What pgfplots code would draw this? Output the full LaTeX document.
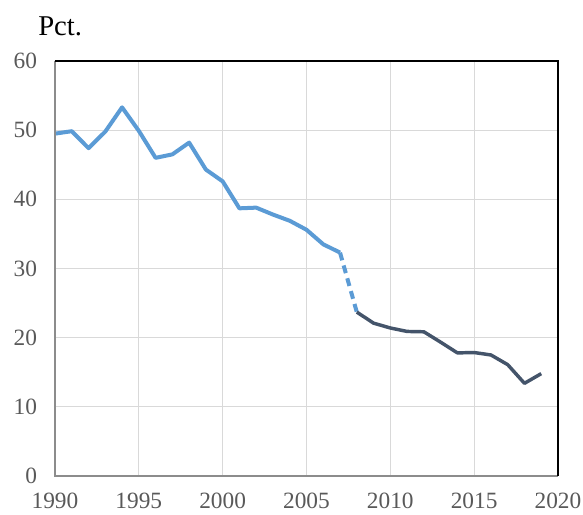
\documentclass[border=0pt]{standalone}
\usepackage{fontspec}
\setmainfont{Liberation Serif}
\usepackage{pgfplots}
\pgfplotsset{compat=1.18}
\definecolor{lblue}{HTML}{5B9BD5}
\definecolor{dblue}{HTML}{44546A}
\definecolor{tickgrey}{HTML}{595959}
\definecolor{gridgrey}{HTML}{D9D9D9}
\definecolor{axgrey}{HTML}{8C8C8C}
\begin{document}
\begin{tikzpicture}
\begin{axis}[
  at={(0pt,0pt)}, anchor=south west,
  scale only axis,
  width=377.25pt, height=311.25pt,
  xmin=1990, xmax=2020, ymin=0, ymax=60,
  xtick={1990,1995,...,2020}, ytick={0,10,...,60},
  major tick length=0pt,
  axis line style={draw=none},
  grid=major,
  major grid style={gridgrey, line width=0.75pt},
  /pgf/number format/assume math mode=true,
  /pgf/number format/1000 sep={},
  tick label style={font=\fontsize{17.5}{20}\selectfont, text=tickgrey},
  xticklabel style={yshift=-9pt},
  yticklabel style={xshift=-10pt},
  clip=false,
]
\addplot[lblue, line width=3pt, line join=round] coordinates {
(1990,49.5) (1991,49.85) (1992,47.4) (1993,49.8) (1994,53.3) (1995,49.9)
(1996,46.0) (1997,46.5) (1998,48.2) (1999,44.3) (2000,42.6) (2001,38.7)
(2002,38.8) (2003,37.8) (2004,36.9) (2005,35.6) (2006,33.5) (2007,32.3)
};
\addplot[lblue, line width=3pt, dash pattern=on 6pt off 4pt] coordinates {
(2007,32.3) (2008,23.7)
};
\addplot[dblue, line width=2.6pt, line join=round] coordinates {
(2008,23.7) (2009,22.1) (2010,21.4) (2011,20.9) (2012,20.85) (2013,19.35)
(2014,17.8) (2015,17.85) (2016,17.5) (2017,16.1) (2018,13.4) (2019,14.8)
};
\draw[axgrey, line width=1.2pt] (rel axis cs:0,1) -- (rel axis cs:0,0) -- (rel axis cs:1,0);
\draw[black, line width=1.8pt] (rel axis cs:0,1) -- (rel axis cs:1,1) -- (rel axis cs:1,0);
\node[anchor=base west, inner sep=0pt, font=\fontsize{21.5}{24}\selectfont] at ([xshift=-12.75pt, yshift=19.5pt]rel axis cs:0,1) {Pct.};
\end{axis}
\pgfresetboundingbox
\path (-41.25pt,-29.25pt) rectangle (396pt,357pt);
\end{tikzpicture}
\end{document}
